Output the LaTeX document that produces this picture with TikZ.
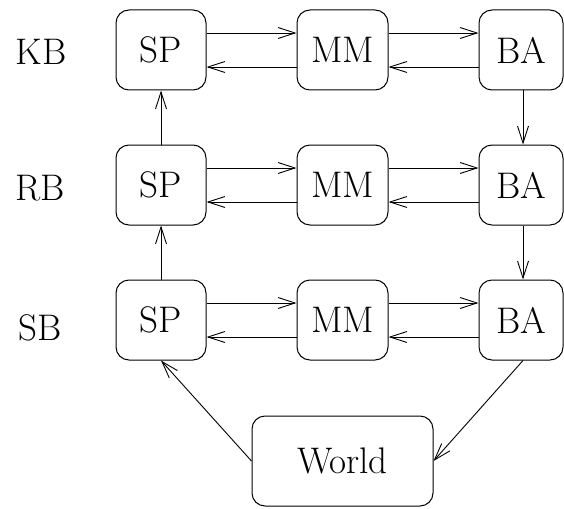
\documentclass[tikz,border=0pt]{standalone}
\usetikzlibrary{arrows.meta}
\begin{document}
\begin{tikzpicture}[x=1pt,y=-1pt,
  box/.style={draw,line width=1pt,rounded corners=13pt,minimum height=80pt,inner sep=0pt,
    font=\fontsize{37}{44}\selectfont},
  lbl/.style={font=\fontsize{37}{44}\selectfont,inner sep=0pt},
  link/.style={line width=0.9pt,-{Straight Barb[length=17pt,width=11pt,line width=0.9pt]}}]
\useasboundingbox (0,0) rectangle (564,508);
% layer labels
\node[lbl] (kb) at (41,52) {KB};
\node[lbl] (rb) at (40,188) {RB};
\node[lbl] (sb) at (40,328) {SB};
% three layers of SP / MM / BA
\foreach \r/\y in {1/50,2/185,3/320}{
  \node[box,minimum width=90pt] (sp\r) at (161,\y) {SP};
  \node[box,minimum width=91pt] (mm\r) at (342.5,\y) {MM};
  \node[box,minimum width=84pt] (ba\r) at (521,\y) {BA};
  \draw[link] ([yshift=17pt]sp\r.east) -- ([yshift=17pt]mm\r.west);
  \draw[link] ([yshift=-17pt]mm\r.west) -- ([yshift=-17pt]sp\r.east);
  \draw[link] ([yshift=17pt]mm\r.east) -- ([yshift=17pt]ba\r.west);
  \draw[link] ([yshift=-17pt]ba\r.west) -- ([yshift=-17pt]mm\r.east);
}
\node[box,minimum width=181pt,minimum height=90pt] (world) at (342.5,461) {World};
% vertical flow between layers
\draw[link] (sp3.north) -- (sp2.south);
\draw[link] (sp2.north) -- (sp1.south);
\draw[link] ([xshift=2pt]ba1.south) -- ([xshift=2pt]ba2.north);
\draw[link] ([xshift=2pt]ba2.south) -- ([xshift=2pt]ba3.north);
% interaction with the world
\draw[link] (world.west) -- (sp3.south);
\draw[link] ([xshift=2pt]ba3.south) -- (world.east);
\end{tikzpicture}
\end{document}
